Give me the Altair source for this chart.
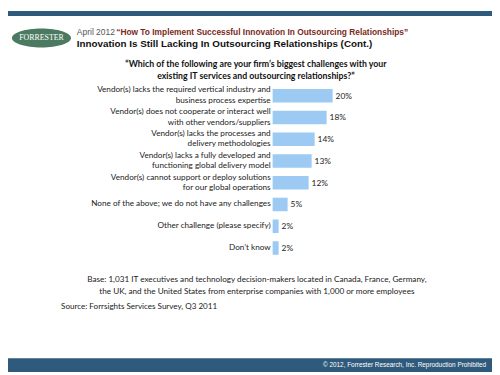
import altair as alt
import pandas as pd

categories = [
    "Vendor(s) lacks the required vertical industry and\nbusiness process expertise",
    "Vendor(s) does not cooperate or interact well\nwith other vendors/suppliers",
    "Vendor(s) lacks the processes and\ndelivery methodologies",
    "Vendor(s) lacks a fully developed and\nfunctioning global delivery model",
    "Vendor(s) cannot support or deploy solutions\nfor our global operations",
    "None of the above; we do not have any challenges",
    "Other challenge (please specify)",
    "Don\u2019t know",
]
values = [20, 18, 14, 13, 12, 5, 2, 2]

header_date = "April 2012"
header_report = "\u201cHow To Implement  Successful Innovation In Outsourcing Relationships\u201d"
header_title = "Innovation Is Still Lacking In Outsourcing Relationships (Cont.)"
question = "\u201cWhich of the following are your firm\u2019s biggest challenges with your\nexisting IT services and outsourcing relationships?\u201d"
base_note = "Base: 1,031 IT executives and technology decision-makers located in Canada, France, Germany,\nthe UK, and the United States from enterprise companies with 1,000 or more employees"
source_note = "Source: Forrsights Services Survey, Q3 2011"
footer_note = "\u00a9 2012, Forrester Research, Inc. Reproduction Prohibited"
logo_text = "FORRESTER"

df = pd.DataFrame({"cat": categories, "val": values})
df["lbl"] = df["val"].astype(str) + "%"
df["two"] = df["cat"].str.contains("\n")

BAND = "#2f5a7c"
BODY_FONT = "Lato"

one = pd.DataFrame({"k": [0]})

y_scale = alt.Scale(domain=categories, range=[75, 252], paddingInner=0.38, paddingOuter=0.19)
x_scale = alt.Scale(domain=[0, 20], range=[269, 330])

Y = alt.Y("cat:N", scale=y_scale, axis=None, sort=categories)

bars = alt.Chart(df).mark_bar(color="#9dcaf3").encode(
    y=Y, x=alt.X("val:Q", scale=x_scale, axis=None),
)
vals = alt.Chart(df).mark_text(align="left", baseline="middle", dx=3, font=BODY_FONT, fontSize=8.5, color="#222").encode(
    y=Y, x=alt.X("val:Q", scale=x_scale, axis=None), text="lbl:N",
)
cats_two = alt.Chart(df).transform_filter("datum.two").mark_text(
    align="right", baseline="middle", lineBreak="\n", font=BODY_FONT, fontSize=8.3,
    color="#222", lineHeight=10.5, dy=-5.25,
).encode(y=Y, x=alt.value(267), text="cat:N")
cats_one = alt.Chart(df).transform_filter("!datum.two").mark_text(
    align="right", baseline="middle", font=BODY_FONT, fontSize=8.3, color="#222",
).encode(y=Y, x=alt.value(267), text="cat:N")

top_band = alt.Chart(one).mark_rect(color=BAND).encode(
    x=alt.value(0), x2=alt.value(492), y=alt.value(0), y2=alt.value(5))
bottom_band = alt.Chart(one).mark_rect(color=BAND).encode(
    x=alt.value(0), x2=alt.value(492), y=alt.value(353), y2=alt.value(367))

logo = alt.Chart(one).mark_point(
    shape="M -1 0 A 1 0.32 0 1 1 1 0 A 1 0.32 0 1 1 -1 0 Z",
    filled=True, color="#4b7a61", opacity=1, size=3600,
).encode(x=alt.value(34), y=alt.value(27.5))
logo_t = alt.Chart(one).mark_text(font="Liberation Serif", fontSize=8, color="white", baseline="middle").encode(
    x=alt.value(34), y=alt.value(28), text=alt.value(logo_text))

def txt(s, x, y, size, color="#222", font=BODY_FONT, weight="normal", align="left", lh=None):
    return alt.Chart(one).mark_text(
        font=font, fontSize=size, color=color, fontWeight=weight, align=align,
        baseline="middle", lineBreak="\n", lineHeight=lh or size * 1.3,
    ).encode(x=alt.value(x), y=alt.value(y), text=alt.value(s))

layers = [
    top_band, bottom_band, logo, logo_t,
    txt(header_date, 70, 21, 8.6, color="#555", font="Liberation Sans"),
    txt(header_report, 110, 21, 8.5, color="#7a2a1c", font="Liberation Sans", weight="bold"),
    txt(header_title, 70, 34, 10, color="#111", font="Liberation Sans", weight="bold"),
    txt(question, 252, 54, 8.9, color="#111", weight="bold", align="center", lh=12.5),
    bars, vals, cats_two, cats_one,
    txt(base_note, 253, 274, 8.3, align="center", lh=11.5),
    txt(source_note, 54, 301, 8.2),
    txt(footer_note, 486, 360, 6.5, color="white", font="Liberation Sans", align="right"),
]

chart = alt.layer(*layers).properties(
    width=492, height=367, autosize="none", padding=0,
).configure_view(stroke=None)

chart.save("out.html", embed_options={"renderer": "svg", "actions": False})
